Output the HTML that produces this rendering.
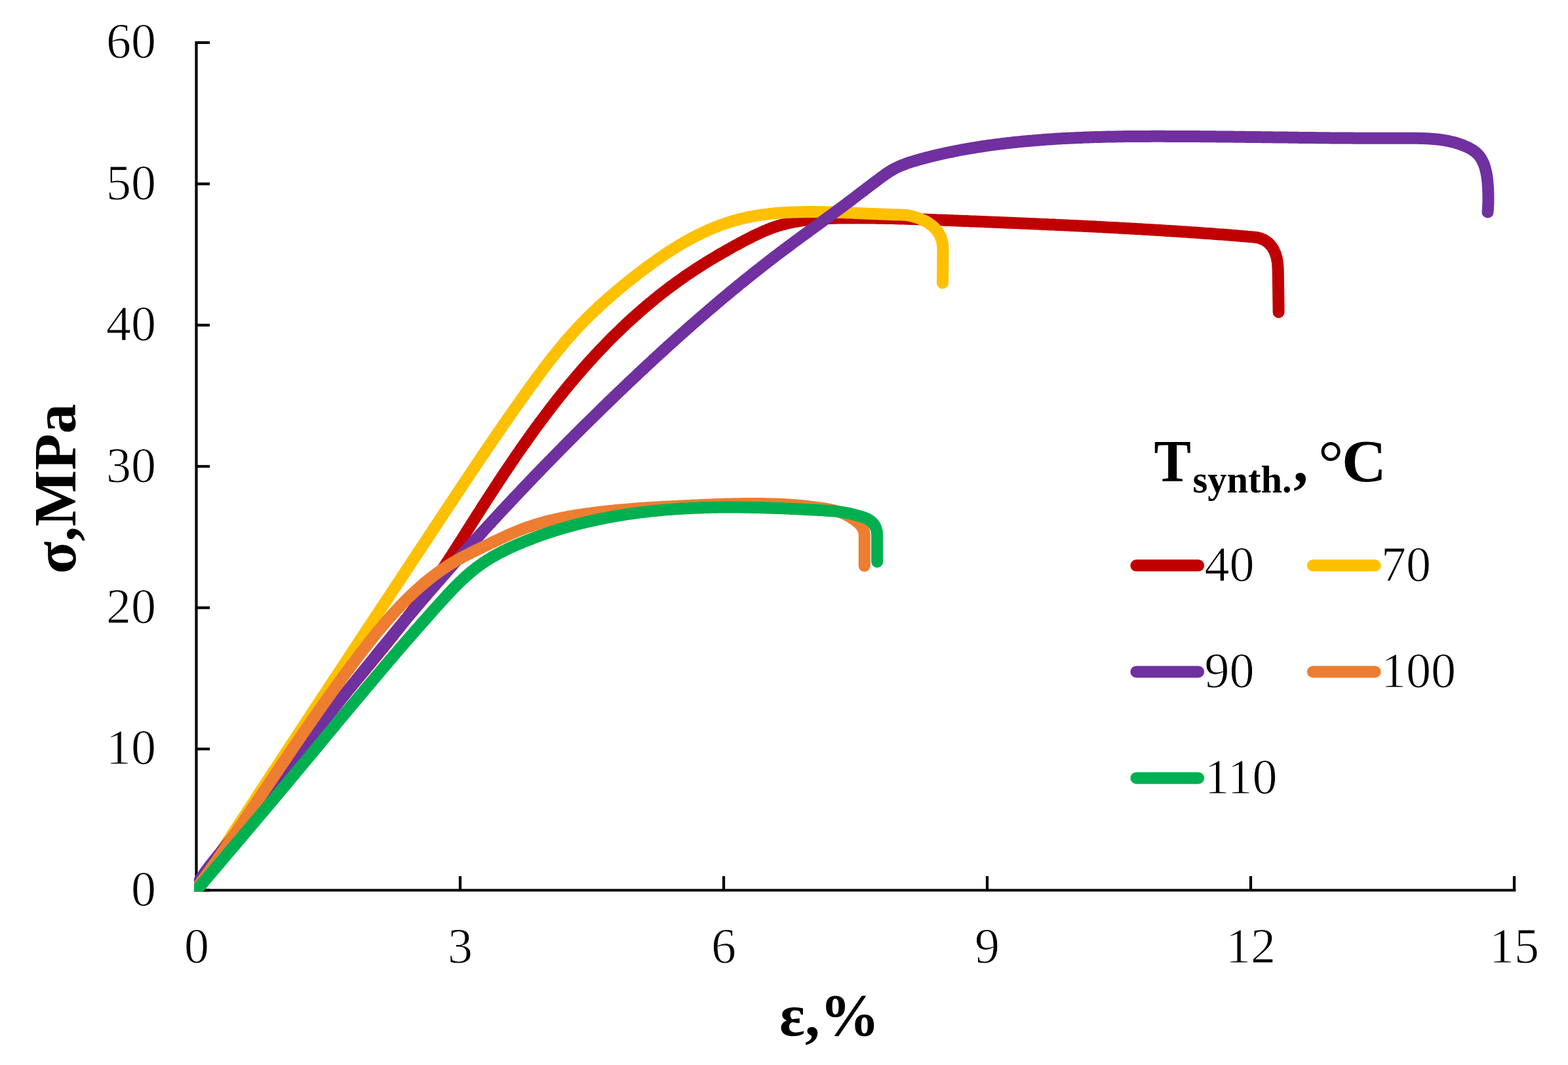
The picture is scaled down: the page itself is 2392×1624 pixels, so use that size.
<!DOCTYPE html>
<html><head><meta charset="utf-8"><title>Stress-strain curves</title>
<style>html,body{margin:0;padding:0;background:#fff;overflow:hidden}svg{display:block}</style>
</head><body>
<svg width="2392" height="1624" viewBox="0 0 2392 1624">
<rect width="2392" height="1624" fill="#fff"/>
<defs><clipPath id="pa"><rect x="296" y="40" width="2040" height="1320"/></clipPath></defs>
<g stroke="#000" stroke-width="4.2" fill="none" stroke-linecap="butt">
<path d="M299.5,63.0 V1357.5 H2312.3"/>
<path d="M299.5,1357.5 H320.0"/>
<path d="M299.5,1142.1 H320.0"/>
<path d="M299.5,926.7 H320.0"/>
<path d="M299.5,711.2 H320.0"/>
<path d="M299.5,495.8 H320.0"/>
<path d="M299.5,280.4 H320.0"/>
<path d="M299.5,65.0 H320.0"/>
<path d="M702.0,1357.5 V1336.0"/>
<path d="M1104.0,1357.5 V1336.0"/>
<path d="M1506.0,1357.5 V1336.0"/>
<path d="M1908.0,1357.5 V1336.0"/>
<path d="M2310.0,1357.5 V1336.0"/>
</g>
<g clip-path="url(#pa)" fill="none" stroke-width="18" stroke-linecap="round" stroke-linejoin="round">
<path stroke="#C00000" d="M300.0,1355.0 301.6,1352.5 303.2,1349.9 304.8,1347.4 306.5,1344.9 308.1,1342.4 309.7,1339.8 311.4,1337.3 313.0,1334.8 314.7,1332.3 316.3,1329.8 318.0,1327.3 319.6,1324.8 321.3,1322.3 323.0,1319.8 324.7,1317.4 326.3,1314.9 328.0,1312.4 329.7,1309.9 331.4,1307.4 333.1,1305.0 334.8,1302.5 336.5,1300.0 338.2,1297.6 339.9,1295.1 341.7,1292.7 343.4,1290.2 345.1,1287.8 346.8,1285.3 348.6,1282.9 350.3,1280.5 352.1,1278.0 353.8,1275.6 355.6,1273.2 357.3,1270.7 359.1,1268.3 360.8,1265.9 362.6,1263.5 364.4,1261.1 366.1,1258.6 367.9,1256.2 369.7,1253.8 371.5,1251.4 373.3,1249.0 375.1,1246.6 376.8,1244.2 378.6,1241.8 380.4,1239.4 382.2,1237.0 384.0,1234.6 385.8,1232.3 387.7,1229.9 389.5,1227.5 391.3,1225.1 393.1,1222.7 394.9,1220.3 396.8,1218.0 398.6,1215.6 400.4,1213.2 402.2,1210.9 404.1,1208.5 405.9,1206.1 407.8,1203.8 409.6,1201.4 411.4,1199.1 413.3,1196.7 415.1,1194.3 417.0,1192.0 418.9,1189.6 420.7,1187.3 422.6,1184.9 424.4,1182.6 426.3,1180.2 428.2,1177.9 430.0,1175.6 431.9,1173.2 433.8,1170.9 435.6,1168.5 437.5,1166.2 439.4,1163.9 441.3,1161.5 443.1,1159.2 445.0,1156.9 446.9,1154.5 448.8,1152.2 450.7,1149.9 452.6,1147.6 454.5,1145.2 456.4,1142.9 458.2,1140.6 460.1,1138.3 462.0,1135.9 463.9,1133.6 465.8,1131.3 467.7,1129.0 469.6,1126.7 471.5,1124.4 473.4,1122.0 475.3,1119.7 477.2,1117.4 479.2,1115.1 481.1,1112.8 483.0,1110.5 484.9,1108.2 486.8,1105.8 488.7,1103.5 490.6,1101.2 492.5,1098.9 494.4,1096.6 496.3,1094.3 498.2,1092.0 500.2,1089.7 502.1,1087.4 504.0,1085.1 505.9,1082.8 507.8,1080.4 509.7,1078.1 511.6,1075.8 513.6,1073.5 515.5,1071.2 517.4,1068.9 519.3,1066.6 521.2,1064.3 523.1,1062.0 525.1,1059.7 527.0,1057.4 528.9,1055.1 530.8,1052.8 532.7,1050.5 534.6,1048.1 536.6,1045.8 538.5,1043.5 540.4,1041.2 542.3,1038.9 544.2,1036.6 546.1,1034.3 548.0,1032.0 549.9,1029.7 551.9,1027.4 553.8,1025.1 555.7,1022.7 557.6,1020.4 559.5,1018.1 561.4,1015.8 563.3,1013.5 565.2,1011.2 567.1,1008.9 569.0,1006.5 570.9,1004.2 572.8,1001.9 574.7,999.6 576.6,997.3 578.5,994.9 580.4,992.6 582.3,990.3 584.2,988.0 586.1,985.6 588.0,983.3 589.9,981.0 591.8,978.7 593.6,976.3 595.5,974.0 597.4,971.7 599.3,969.3 601.1,967.0 603.0,964.6 604.9,962.3 606.8,959.9 608.6,957.6 610.5,955.2 612.3,952.9 614.2,950.5 616.0,948.2 617.9,945.8 619.7,943.5 621.6,941.1 623.4,938.7 625.2,936.4 627.1,934.0 628.9,931.6 630.7,929.2 632.5,926.9 634.3,924.5 636.1,922.1 637.9,919.7 639.7,917.3 641.5,914.9 643.3,912.5 645.1,910.1 646.9,907.7 648.6,905.3 650.4,902.9 652.2,900.5 653.9,898.0 655.7,895.6 657.4,893.2 659.1,890.8 660.9,888.3 662.6,885.9 664.3,883.4 666.0,881.0 667.7,878.5 669.4,876.1 671.1,873.6 672.8,871.1 674.5,868.7 676.1,866.2 677.8,863.7 679.5,861.2 681.1,858.7 682.7,856.2 684.4,853.7 686.0,851.2 687.6,848.7 689.3,846.2 690.9,843.7 692.5,841.2 694.1,838.7 695.7,836.1 697.3,833.6 698.9,831.1 700.5,828.6 702.1,826.0 703.7,823.5 705.3,821.0 706.9,818.4 708.5,815.9 710.1,813.4 711.7,810.8 713.3,808.3 714.9,805.8 716.5,803.3 718.1,800.7 719.7,798.2 721.3,795.7 722.9,793.1 724.5,790.6 726.1,788.1 727.7,785.5 729.4,783.0 731.0,780.5 732.6,778.0 734.2,775.4 735.8,772.9 737.4,770.4 739.1,767.9 740.7,765.3 742.3,762.8 743.9,760.3 745.6,757.8 747.2,755.3 748.8,752.7 750.5,750.2 752.1,747.7 753.8,745.2 755.4,742.7 757.0,740.2 758.7,737.7 760.3,735.1 762.0,732.6 763.7,730.1 765.3,727.6 767.0,725.1 768.6,722.6 770.3,720.1 772.0,717.6 773.7,715.1 775.3,712.7 777.0,710.2 778.7,707.7 780.4,705.2 782.1,702.7 783.8,700.2 785.4,697.8 787.1,695.3 788.8,692.8 790.6,690.3 792.3,687.9 794.0,685.4 795.7,682.9 797.4,680.5 799.1,678.0 800.9,675.6 802.6,673.1 804.3,670.7 806.1,668.2 807.8,665.8 809.6,663.4 811.3,660.9 813.1,658.5 814.8,656.1 816.6,653.6 818.3,651.2 820.1,648.8 821.9,646.4 823.7,644.0 825.5,641.6 827.3,639.2 829.1,636.8 830.9,634.4 832.7,632.0 834.5,629.6 836.3,627.2 838.1,624.8 839.9,622.4 841.8,620.1 843.6,617.7 845.4,615.3 847.3,613.0 849.1,610.6 851.0,608.3 852.8,605.9 854.7,603.6 856.6,601.3 858.5,598.9 860.3,596.6 862.2,594.3 864.1,592.0 866.0,589.6 867.9,587.3 869.8,585.0 871.8,582.7 873.7,580.4 875.6,578.2 877.6,575.9 879.5,573.6 881.4,571.3 883.4,569.1 885.4,566.8 887.3,564.5 889.3,562.3 891.3,560.0 893.2,557.8 895.2,555.6 897.2,553.4 899.2,551.1 901.2,548.9 903.3,546.7 905.3,544.5 907.3,542.3 909.3,540.1 911.4,537.9 913.4,535.8 915.5,533.6 917.5,531.4 919.6,529.3 921.7,527.1 923.8,525.0 925.8,522.8 927.9,520.7 930.0,518.6 932.1,516.4 934.2,514.3 936.4,512.2 938.5,510.1 940.6,508.0 942.8,505.9 944.9,503.9 947.1,501.8 949.2,499.7 951.4,497.7 953.6,495.6 955.7,493.6 957.9,491.5 960.1,489.5 962.3,487.5 964.5,485.5 966.7,483.5 969.0,481.5 971.2,479.5 973.4,477.5 975.7,475.6 977.9,473.6 980.2,471.6 982.4,469.7 984.7,467.7 987.0,465.8 989.3,463.9 991.6,462.0 993.9,460.1 996.2,458.2 998.5,456.3 1000.8,454.4 1003.2,452.5 1005.5,450.7 1007.9,448.8 1010.2,446.9 1012.6,445.1 1015.0,443.3 1017.3,441.5 1019.7,439.6 1022.1,437.8 1024.5,436.0 1026.9,434.3 1029.4,432.5 1031.8,430.7 1034.2,429.0 1036.7,427.2 1039.1,425.5 1041.6,423.8 1044.0,422.0 1046.5,420.3 1049.0,418.6 1051.5,416.9 1054.0,415.3 1056.5,413.6 1059.0,411.9 1061.5,410.3 1064.1,408.6 1066.6,407.0 1069.1,405.4 1071.7,403.8 1074.2,402.1 1076.8,400.5 1079.4,399.0 1081.9,397.4 1084.5,395.8 1087.1,394.3 1089.7,392.7 1092.3,391.2 1094.9,389.6 1097.5,388.1 1100.1,386.6 1102.8,385.1 1105.4,383.6 1108.0,382.1 1110.6,380.6 1113.3,379.1 1115.9,377.6 1118.5,376.2 1121.2,374.7 1123.8,373.3 1126.5,371.9 1129.1,370.4 1131.8,369.0 1134.5,367.6 1137.1,366.2 1139.8,364.8 1142.5,363.4 1145.1,362.1 1147.8,360.7 1150.5,359.4 1153.2,358.1 1155.9,356.8 1158.6,355.6 1161.3,354.3 1164.1,353.1 1166.8,351.9 1169.5,350.8 1172.3,349.7 1175.0,348.6 1177.8,347.6 1180.6,346.6 1183.4,345.6 1186.2,344.7 1189.0,343.9 1191.8,343.0 1194.7,342.3 1197.5,341.5 1200.4,340.8 1203.3,340.1 1206.1,339.5 1209.0,338.9 1211.9,338.3 1214.8,337.8 1217.8,337.3 1220.7,336.9 1223.6,336.4 1226.6,336.0 1229.5,335.6 1232.5,335.3 1235.4,335.0 1238.4,334.7 1241.4,334.4 1244.4,334.2 1247.3,333.9 1250.3,333.7 1253.3,333.5 1256.3,333.4 1259.3,333.2 1262.3,333.1 1265.3,333.0 1268.3,332.9 1271.3,332.8 1274.3,332.7 1277.4,332.6 1280.4,332.6 1283.4,332.5 1286.4,332.5 1289.4,332.5 1292.4,332.4 1295.4,332.4 1298.5,332.4 1301.5,332.4 1304.5,332.4 1307.5,332.4 1310.5,332.4 1313.5,332.4 1316.5,332.4 1319.5,332.4 1322.5,332.5 1325.5,332.5 1328.5,332.5 1331.5,332.6 1334.6,332.6 1337.6,332.7 1340.6,332.7 1343.6,332.8 1346.6,332.8 1349.6,332.9 1352.6,332.9 1355.6,333.0 1358.6,333.1 1361.6,333.1 1364.6,333.2 1367.6,333.3 1370.6,333.4 1373.6,333.4 1376.6,333.5 1379.6,333.6 1382.6,333.7 1385.5,333.8 1388.5,333.9 1391.5,334.0 1394.5,334.1 1397.5,334.2 1400.5,334.3 1403.5,334.4 1406.5,334.5 1409.5,334.6 1412.5,334.7 1415.5,334.8 1418.5,334.9 1421.5,335.0 1424.5,335.2 1427.5,335.3 1430.5,335.4 1433.5,335.5 1436.5,335.6 1439.4,335.7 1442.4,335.8 1445.4,336.0 1448.4,336.1 1451.4,336.2 1454.4,336.3 1457.4,336.4 1460.4,336.5 1463.4,336.7 1466.4,336.8 1469.4,336.9 1472.4,337.0 1475.4,337.1 1478.4,337.2 1481.4,337.4 1484.3,337.5 1487.3,337.6 1490.3,337.7 1493.3,337.8 1496.3,338.0 1499.3,338.1 1502.3,338.2 1505.3,338.3 1508.3,338.4 1511.3,338.6 1514.3,338.7 1517.3,338.8 1520.3,338.9 1523.3,339.0 1526.3,339.2 1529.2,339.3 1532.2,339.4 1535.2,339.5 1538.2,339.7 1541.2,339.8 1544.2,339.9 1547.2,340.0 1550.2,340.2 1553.2,340.3 1556.2,340.4 1559.2,340.5 1562.2,340.7 1565.2,340.8 1568.2,340.9 1571.2,341.0 1574.1,341.2 1577.1,341.3 1580.1,341.4 1583.1,341.6 1586.1,341.7 1589.1,341.8 1592.1,342.0 1595.1,342.1 1598.1,342.2 1601.1,342.4 1604.1,342.5 1607.1,342.6 1610.1,342.8 1613.1,342.9 1616.0,343.0 1619.0,343.2 1622.0,343.3 1625.0,343.5 1628.0,343.6 1631.0,343.7 1634.0,343.9 1637.0,344.0 1640.0,344.2 1643.0,344.3 1646.0,344.5 1649.0,344.6 1652.0,344.7 1655.0,344.9 1657.9,345.0 1660.9,345.2 1663.9,345.3 1666.9,345.5 1669.9,345.6 1672.9,345.8 1675.9,345.9 1678.9,346.1 1681.9,346.2 1684.9,346.4 1687.9,346.6 1690.9,346.7 1693.9,346.9 1696.8,347.0 1699.8,347.2 1702.8,347.3 1705.8,347.5 1708.8,347.7 1711.8,347.8 1714.8,348.0 1717.8,348.2 1720.8,348.3 1723.8,348.5 1726.8,348.7 1729.8,348.8 1732.7,349.0 1735.7,349.2 1738.7,349.3 1741.7,349.5 1744.7,349.7 1747.7,349.9 1750.7,350.0 1753.7,350.2 1756.7,350.4 1759.7,350.6 1762.7,350.8 1765.6,350.9 1768.6,351.1 1771.6,351.3 1774.6,351.5 1777.6,351.7 1780.6,351.9 1783.6,352.0 1786.6,352.2 1789.6,352.4 1792.6,352.6 1795.5,352.8 1798.5,353.0 1801.5,353.2 1804.5,353.4 1807.5,353.6 1810.5,353.8 1813.5,354.0 1816.5,354.2 1819.5,354.4 1822.5,354.6 1825.4,354.8 1828.4,355.0 1831.4,355.2 1834.4,355.4 1837.4,355.7 1840.4,355.9 1843.4,356.1 1846.4,356.3 1849.4,356.5 1852.3,356.7 1855.3,357.0 1858.3,357.2 1861.3,357.4 1864.3,357.6 1867.3,357.8 1870.3,358.1 1873.3,358.3 1876.3,358.5 1879.2,358.8 1882.2,359.0 1885.2,359.2 1888.2,359.5 1891.2,359.7 1894.2,359.9 1897.2,360.2 1900.2,360.4 1903.1,360.7 1906.1,360.9 1909.1,361.2 1912.1,361.4 C1944.4,363.8 1949.3,394 1949.6,410 L1950.6,476"/>
<path stroke="#FFC000" d="M300.0,1356.0 301.6,1353.5 303.3,1351.0 304.9,1348.5 306.5,1345.9 308.2,1343.4 309.8,1340.9 311.4,1338.4 313.1,1335.9 314.7,1333.4 316.4,1330.9 318.0,1328.4 319.6,1325.8 321.3,1323.3 322.9,1320.8 324.5,1318.3 326.2,1315.8 327.8,1313.3 329.5,1310.8 331.1,1308.3 332.7,1305.8 334.4,1303.2 336.0,1300.7 337.6,1298.2 339.3,1295.7 340.9,1293.2 342.6,1290.7 344.2,1288.2 345.8,1285.7 347.5,1283.2 349.1,1280.7 350.8,1278.1 352.4,1275.6 354.0,1273.1 355.7,1270.6 357.3,1268.1 359.0,1265.6 360.6,1263.1 362.2,1260.6 363.9,1258.1 365.5,1255.6 367.2,1253.1 368.8,1250.5 370.4,1248.0 372.1,1245.5 373.7,1243.0 375.4,1240.5 377.0,1238.0 378.6,1235.5 380.3,1233.0 381.9,1230.5 383.6,1228.0 385.2,1225.5 386.9,1223.0 388.5,1220.5 390.1,1217.9 391.8,1215.4 393.4,1212.9 395.1,1210.4 396.7,1207.9 398.4,1205.4 400.0,1202.9 401.7,1200.4 403.3,1197.9 404.9,1195.4 406.6,1192.9 408.2,1190.4 409.9,1187.9 411.5,1185.4 413.2,1182.9 414.8,1180.4 416.5,1177.9 418.1,1175.3 419.7,1172.8 421.4,1170.3 423.0,1167.8 424.7,1165.3 426.3,1162.8 428.0,1160.3 429.6,1157.8 431.3,1155.3 432.9,1152.8 434.6,1150.3 436.2,1147.8 437.8,1145.3 439.5,1142.8 441.1,1140.3 442.8,1137.8 444.4,1135.3 446.1,1132.8 447.7,1130.3 449.4,1127.8 451.0,1125.3 452.7,1122.8 454.3,1120.2 456.0,1117.7 457.6,1115.2 459.3,1112.7 460.9,1110.2 462.6,1107.7 464.2,1105.2 465.9,1102.7 467.5,1100.2 469.2,1097.7 470.8,1095.2 472.5,1092.7 474.1,1090.2 475.7,1087.7 477.4,1085.2 479.0,1082.7 480.7,1080.2 482.3,1077.7 484.0,1075.2 485.6,1072.7 487.3,1070.2 488.9,1067.7 490.6,1065.2 492.2,1062.7 493.9,1060.2 495.5,1057.7 497.2,1055.2 498.8,1052.7 500.5,1050.2 502.1,1047.7 503.8,1045.2 505.4,1042.7 507.1,1040.2 508.7,1037.7 510.4,1035.2 512.0,1032.7 513.7,1030.2 515.3,1027.7 517.0,1025.2 518.7,1022.7 520.3,1020.2 522.0,1017.7 523.6,1015.2 525.3,1012.7 526.9,1010.2 528.6,1007.7 530.2,1005.2 531.9,1002.7 533.5,1000.2 535.2,997.7 536.8,995.1 538.5,992.6 540.1,990.1 541.8,987.6 543.4,985.1 545.1,982.6 546.7,980.1 548.4,977.6 550.0,975.1 551.7,972.6 553.3,970.1 555.0,967.6 556.6,965.1 558.3,962.6 559.9,960.1 561.6,957.6 563.3,955.1 564.9,952.6 566.6,950.1 568.2,947.6 569.9,945.1 571.5,942.6 573.2,940.1 574.8,937.6 576.5,935.1 578.1,932.6 579.8,930.1 581.4,927.6 583.1,925.1 584.7,922.6 586.4,920.1 588.0,917.6 589.7,915.1 591.4,912.6 593.0,910.1 594.7,907.6 596.3,905.1 598.0,902.6 599.6,900.1 601.3,897.6 602.9,895.1 604.6,892.6 606.2,890.1 607.9,887.6 609.5,885.1 611.2,882.6 612.9,880.1 614.5,877.6 616.2,875.1 617.8,872.6 619.5,870.1 621.1,867.6 622.8,865.1 624.4,862.6 626.1,860.1 627.7,857.6 629.4,855.1 631.0,852.6 632.7,850.1 634.4,847.6 636.0,845.1 637.7,842.6 639.3,840.1 641.0,837.6 642.6,835.1 644.3,832.6 645.9,830.1 647.6,827.6 649.2,825.1 650.9,822.6 652.6,820.1 654.2,817.6 655.9,815.1 657.5,812.6 659.2,810.1 660.8,807.6 662.5,805.1 664.1,802.6 665.8,800.1 667.4,797.6 669.1,795.1 670.7,792.6 672.4,790.1 674.1,787.6 675.7,785.1 677.4,782.6 679.0,780.1 680.7,777.6 682.3,775.1 684.0,772.6 685.6,770.1 687.3,767.6 689.0,765.1 690.6,762.6 692.3,760.2 693.9,757.7 695.6,755.2 697.2,752.7 698.9,750.2 700.6,747.7 702.2,745.2 703.9,742.7 705.5,740.2 707.2,737.7 708.9,735.2 710.5,732.7 712.2,730.2 713.9,727.7 715.5,725.2 717.2,722.7 718.9,720.2 720.5,717.7 722.2,715.2 723.9,712.8 725.5,710.3 727.2,707.8 728.9,705.3 730.6,702.8 732.2,700.3 733.9,697.8 735.6,695.3 737.3,692.9 739.0,690.4 740.6,687.9 742.3,685.4 744.0,682.9 745.7,680.5 747.4,678.0 749.1,675.5 750.8,673.0 752.5,670.5 754.1,668.1 755.8,665.6 757.5,663.1 759.2,660.6 760.9,658.2 762.6,655.7 764.3,653.2 766.0,650.8 767.7,648.3 769.5,645.8 771.2,643.4 772.9,640.9 774.6,638.4 776.3,636.0 778.0,633.5 779.7,631.1 781.5,628.6 783.2,626.2 784.9,623.7 786.6,621.2 788.4,618.8 790.1,616.3 791.8,613.9 793.6,611.4 795.3,609.0 797.0,606.5 798.8,604.1 800.5,601.7 802.3,599.2 804.0,596.8 805.8,594.3 807.5,591.9 809.3,589.5 811.0,587.0 812.8,584.6 814.6,582.2 816.3,579.8 818.1,577.3 819.9,574.9 821.7,572.5 823.5,570.1 825.2,567.7 827.0,565.3 828.8,562.9 830.7,560.5 832.5,558.1 834.3,555.8 836.1,553.4 837.9,551.0 839.8,548.7 841.6,546.3 843.5,543.9 845.3,541.6 847.2,539.3 849.1,536.9 851.0,534.6 852.9,532.3 854.8,530.0 856.7,527.7 858.6,525.4 860.5,523.1 862.4,520.8 864.4,518.6 866.3,516.3 868.3,514.1 870.3,511.8 872.3,509.6 874.2,507.4 876.3,505.2 878.3,503.0 880.3,500.8 882.3,498.6 884.4,496.4 886.4,494.3 888.5,492.1 890.6,490.0 892.7,487.9 894.8,485.8 896.9,483.7 899.0,481.6 901.1,479.5 903.3,477.4 905.4,475.3 907.6,473.3 909.8,471.2 911.9,469.2 914.1,467.1 916.3,465.1 918.6,463.1 920.8,461.1 923.0,459.1 925.2,457.1 927.5,455.1 929.7,453.1 932.0,451.2 934.3,449.2 936.6,447.3 938.8,445.3 941.1,443.4 943.4,441.5 945.8,439.5 948.1,437.6 950.4,435.7 952.7,433.8 955.1,431.9 957.4,430.0 959.8,428.1 962.2,426.2 964.5,424.4 966.9,422.5 969.3,420.7 971.7,418.8 974.1,416.9 976.5,415.1 978.9,413.3 981.3,411.4 983.8,409.6 986.2,407.8 988.6,406.0 991.1,404.2 993.5,402.4 996.0,400.6 998.5,398.9 1000.9,397.1 1003.4,395.4 1005.9,393.6 1008.4,391.9 1010.9,390.2 1013.4,388.5 1015.9,386.8 1018.5,385.2 1021.0,383.5 1023.6,381.9 1026.1,380.2 1028.7,378.6 1031.2,377.0 1033.8,375.5 1036.4,373.9 1039.0,372.4 1041.6,370.8 1044.2,369.3 1046.8,367.9 1049.4,366.4 1052.0,364.9 1054.7,363.5 1057.3,362.1 1060.0,360.7 1062.7,359.3 1065.3,358.0 1068.0,356.7 1070.7,355.4 1073.4,354.1 1076.1,352.9 1078.8,351.6 1081.5,350.4 1084.3,349.2 1087.0,348.1 1089.7,347.0 1092.5,345.9 1095.3,344.8 1098.0,343.7 1100.8,342.7 1103.6,341.7 1106.4,340.8 1109.2,339.8 1112.1,338.9 1114.9,338.0 1117.7,337.2 1120.6,336.4 1123.4,335.6 1126.3,334.8 1129.1,334.0 1132.0,333.3 1134.9,332.7 1137.8,332.0 1140.7,331.4 1143.6,330.8 1146.5,330.2 1149.4,329.7 1152.4,329.1 1155.3,328.6 1158.2,328.2 1161.2,327.7 1164.1,327.3 1167.1,326.9 1170.0,326.6 1173.0,326.2 1176.0,325.9 1178.9,325.6 1181.9,325.3 1184.9,325.0 1187.9,324.8 1190.9,324.6 1193.9,324.4 1196.9,324.2 1199.9,324.0 1202.9,323.9 1205.9,323.7 1208.9,323.6 1211.9,323.5 1214.9,323.4 1217.9,323.3 1220.9,323.3 1223.9,323.2 1226.9,323.2 1230.0,323.1 1233.0,323.1 1236.0,323.1 1239.0,323.1 1242.0,323.1 1245.0,323.1 1248.1,323.2 1251.1,323.2 1254.1,323.2 1257.1,323.3 1260.1,323.4 1263.1,323.4 1266.1,323.5 1269.2,323.6 1272.2,323.7 1275.2,323.8 1278.2,323.9 1281.2,324.0 1284.2,324.1 1287.2,324.2 1290.2,324.3 1293.2,324.4 1296.3,324.5 1299.3,324.6 1302.3,324.8 1305.3,324.9 1308.3,325.0 1311.3,325.2 1314.3,325.3 1317.3,325.4 1320.3,325.6 1323.3,325.7 1326.3,325.8 1329.3,326.0 1332.3,326.1 1335.3,326.2 1338.3,326.3 1341.2,326.5 1344.2,326.6 1347.2,326.7 1350.2,326.8 1353.2,327.0 1356.2,327.1 1359.2,327.2 1362.1,327.3 1365.1,327.4 1368.1,327.5 1371.1,327.6 1374.1,327.6 1377.0,327.7 1380.0,327.8 C1385.2,328.1 1438.5,334.7 1438.5,380 L1438,431.4"/>
<path stroke="#7030A0" d="M300.0,1350.0 301.5,1347.4 303.1,1344.8 304.6,1342.2 306.3,1339.7 307.9,1337.2 309.6,1334.7 311.3,1332.2 313.0,1329.8 314.8,1327.3 316.6,1324.9 318.4,1322.6 320.2,1320.2 322.0,1317.8 323.9,1315.5 325.7,1313.1 327.6,1310.8 329.5,1308.5 331.4,1306.1 333.2,1303.8 335.1,1301.5 337.0,1299.2 338.9,1296.8 340.8,1294.5 342.7,1292.2 344.5,1289.9 346.4,1287.5 348.3,1285.2 350.2,1282.9 352.1,1280.5 353.9,1278.2 355.8,1275.9 357.7,1273.5 359.6,1271.2 361.4,1268.9 363.3,1266.5 365.2,1264.2 367.0,1261.8 368.9,1259.5 370.8,1257.1 372.6,1254.8 374.5,1252.5 376.3,1250.1 378.2,1247.8 380.1,1245.4 381.9,1243.1 383.8,1240.7 385.6,1238.4 387.5,1236.0 389.4,1233.6 391.2,1231.3 393.1,1228.9 394.9,1226.6 396.8,1224.2 398.6,1221.9 400.5,1219.5 402.3,1217.2 404.2,1214.8 406.0,1212.4 407.9,1210.1 409.7,1207.7 411.6,1205.4 413.4,1203.0 415.3,1200.6 417.1,1198.3 419.0,1195.9 420.8,1193.5 422.7,1191.2 424.5,1188.8 426.3,1186.4 428.2,1184.1 430.0,1181.7 431.9,1179.3 433.7,1177.0 435.6,1174.6 437.4,1172.2 439.3,1169.9 441.1,1167.5 442.9,1165.1 444.8,1162.8 446.6,1160.4 448.5,1158.0 450.3,1155.7 452.2,1153.3 454.0,1150.9 455.8,1148.6 457.7,1146.2 459.5,1143.8 461.4,1141.5 463.2,1139.1 465.1,1136.7 466.9,1134.4 468.7,1132.0 470.6,1129.6 472.4,1127.3 474.3,1124.9 476.1,1122.5 478.0,1120.2 479.8,1117.8 481.7,1115.4 483.5,1113.1 485.3,1110.7 487.2,1108.3 489.0,1106.0 490.9,1103.6 492.7,1101.2 494.6,1098.9 496.4,1096.5 498.3,1094.1 500.1,1091.8 502.0,1089.4 503.8,1087.0 505.7,1084.7 507.6,1082.3 509.4,1080.0 511.3,1077.6 513.1,1075.2 515.0,1072.9 516.8,1070.5 518.7,1068.2 520.5,1065.8 522.4,1063.5 524.3,1061.1 526.1,1058.8 528.0,1056.4 529.9,1054.0 531.7,1051.7 533.6,1049.3 535.5,1047.0 537.3,1044.6 539.2,1042.3 541.1,1039.9 542.9,1037.6 544.8,1035.3 546.7,1032.9 548.6,1030.6 550.4,1028.2 552.3,1025.9 554.2,1023.5 556.1,1021.2 558.0,1018.9 559.8,1016.5 561.7,1014.2 563.6,1011.9 565.5,1009.5 567.4,1007.2 569.3,1004.9 571.2,1002.5 573.1,1000.2 574.9,997.9 576.8,995.6 578.7,993.2 580.6,990.9 582.5,988.6 584.4,986.3 586.3,984.0 588.3,981.6 590.2,979.3 592.1,977.0 594.0,974.7 595.9,972.4 597.8,970.1 599.7,967.8 601.6,965.5 603.6,963.1 605.5,960.8 607.4,958.5 609.3,956.2 611.2,953.9 613.2,951.6 615.1,949.3 617.0,947.0 618.9,944.7 620.9,942.4 622.8,940.2 624.7,937.9 626.7,935.6 628.6,933.3 630.6,931.0 632.5,928.7 634.4,926.4 636.4,924.1 638.3,921.9 640.3,919.6 642.2,917.3 644.2,915.0 646.1,912.7 648.1,910.5 650.0,908.2 652.0,905.9 653.9,903.7 655.9,901.4 657.9,899.1 659.8,896.8 661.8,894.6 663.8,892.3 665.7,890.0 667.7,887.8 669.7,885.5 671.6,883.3 673.6,881.0 675.6,878.8 677.6,876.5 679.5,874.2 681.5,872.0 683.5,869.7 685.5,867.5 687.5,865.2 689.4,863.0 691.4,860.7 693.4,858.5 695.4,856.3 697.4,854.0 699.4,851.8 701.4,849.5 703.4,847.3 705.4,845.1 707.4,842.8 709.4,840.6 711.4,838.4 713.4,836.1 715.4,833.9 717.4,831.7 719.4,829.4 721.4,827.2 723.4,825.0 725.4,822.8 727.4,820.6 729.5,818.3 731.5,816.1 733.5,813.9 735.5,811.7 737.5,809.5 739.5,807.3 741.6,805.0 743.6,802.8 745.6,800.6 747.7,798.4 749.7,796.2 751.7,794.0 753.7,791.8 755.8,789.6 757.8,787.4 759.9,785.2 761.9,783.0 763.9,780.8 766.0,778.6 768.0,776.4 770.1,774.2 772.1,772.0 774.2,769.8 776.2,767.7 778.3,765.5 780.3,763.3 782.4,761.1 784.4,758.9 786.5,756.7 788.5,754.6 790.6,752.4 792.7,750.2 794.7,748.0 796.8,745.8 798.8,743.7 800.9,741.5 803.0,739.3 805.1,737.2 807.1,735.0 809.2,732.8 811.3,730.7 813.3,728.5 815.4,726.3 817.5,724.2 819.6,722.0 821.7,719.9 823.8,717.7 825.8,715.5 827.9,713.4 830.0,711.2 832.1,709.1 834.2,706.9 836.3,704.8 838.4,702.6 840.5,700.5 842.6,698.4 844.7,696.2 846.8,694.1 848.9,691.9 851.0,689.8 853.1,687.6 855.2,685.5 857.3,683.4 859.4,681.2 861.5,679.1 863.6,677.0 865.7,674.9 867.8,672.7 870.0,670.6 872.1,668.5 874.2,666.4 876.3,664.2 878.4,662.1 880.6,660.0 882.7,657.9 884.8,655.8 886.9,653.6 889.1,651.5 891.2,649.4 893.3,647.3 895.5,645.2 897.6,643.1 899.7,641.0 901.9,638.9 904.0,636.8 906.2,634.7 908.3,632.6 910.4,630.5 912.6,628.4 914.7,626.3 916.9,624.2 919.0,622.1 921.2,620.0 923.3,617.9 925.5,615.8 927.6,613.7 929.8,611.6 932.0,609.5 934.1,607.5 936.3,605.4 938.4,603.3 940.6,601.2 942.8,599.1 944.9,597.1 947.1,595.0 949.3,592.9 951.4,590.8 953.6,588.8 955.8,586.7 958.0,584.6 960.1,582.6 962.3,580.5 964.5,578.4 966.7,576.4 968.9,574.3 971.1,572.3 973.2,570.2 975.4,568.1 977.6,566.1 979.8,564.0 982.0,562.0 984.2,559.9 986.4,557.9 988.6,555.8 990.8,553.8 993.0,551.8 995.2,549.7 997.4,547.7 999.6,545.7 1001.8,543.6 1004.0,541.6 1006.2,539.6 1008.5,537.5 1010.7,535.5 1012.9,533.5 1015.1,531.5 1017.3,529.4 1019.6,527.4 1021.8,525.4 1024.0,523.4 1026.2,521.4 1028.5,519.4 1030.7,517.4 1032.9,515.4 1035.2,513.4 1037.4,511.4 1039.6,509.4 1041.9,507.4 1044.1,505.4 1046.4,503.4 1048.6,501.4 1050.9,499.4 1053.1,497.4 1055.4,495.4 1057.6,493.5 1059.9,491.5 1062.2,489.5 1064.4,487.5 1066.7,485.6 1068.9,483.6 1071.2,481.6 1073.5,479.7 1075.8,477.7 1078.0,475.8 1080.3,473.8 1082.6,471.9 1084.9,469.9 1087.2,468.0 1089.4,466.0 1091.7,464.1 1094.0,462.1 1096.3,460.2 1098.6,458.3 1100.9,456.3 1103.2,454.4 1105.5,452.5 1107.8,450.6 1110.1,448.6 1112.4,446.7 1114.7,444.8 1117.0,442.9 1119.3,441.0 1121.7,439.1 1124.0,437.2 1126.3,435.3 1128.6,433.4 1131.0,431.5 1133.3,429.6 1135.6,427.7 1137.9,425.9 1140.3,424.0 1142.6,422.1 1145.0,420.2 1147.3,418.4 1149.6,416.5 1152.0,414.6 1154.3,412.8 1156.7,410.9 1159.1,409.1 1161.4,407.2 1163.8,405.4 1166.1,403.5 1168.5,401.7 1170.9,399.8 1173.2,398.0 1175.6,396.2 1178.0,394.3 1180.4,392.5 1182.7,390.7 1185.1,388.9 1187.5,387.1 1189.9,385.3 1192.3,383.5 1194.7,381.6 1197.1,379.8 1199.5,378.1 1201.9,376.3 1204.3,374.5 1206.7,372.7 1209.1,370.9 1211.5,369.1 1213.9,367.3 1216.3,365.6 1218.8,363.8 1221.2,362.0 1223.6,360.2 1226.0,358.5 1228.4,356.7 1230.8,354.9 1233.3,353.2 1235.7,351.4 1238.1,349.6 1240.5,347.9 1243.0,346.1 1245.4,344.3 1247.8,342.6 1250.2,340.8 1252.6,339.0 1255.1,337.3 1257.5,335.5 1259.9,333.7 1262.3,332.0 1264.7,330.2 1267.1,328.4 1269.6,326.7 1272.0,324.9 1274.4,323.1 1276.8,321.3 1279.2,319.5 1281.6,317.8 1284.0,316.0 1286.4,314.2 1288.8,312.4 1291.2,310.6 1293.6,308.8 1296.0,307.0 1298.4,305.2 1300.8,303.4 1303.2,301.6 1305.6,299.8 1307.9,297.9 1310.3,296.1 1312.7,294.3 1315.1,292.5 1317.5,290.7 1319.9,288.9 1322.2,287.0 1324.6,285.2 1327.0,283.4 1329.4,281.6 1331.8,279.8 1334.2,278.0 1336.6,276.2 1339.0,274.4 1341.4,272.6 1343.8,270.8 1346.3,269.0 1348.7,267.3 1351.1,265.5 1353.6,263.8 1356.1,262.2 1358.6,260.6 1361.2,259.1 1363.8,257.6 1366.4,256.3 1369.1,255.0 1371.8,253.7 1374.6,252.5 1377.3,251.4 1380.1,250.4 1382.9,249.3 1385.8,248.3 1388.6,247.4 1391.5,246.5 1394.4,245.6 1397.3,244.8 1400.2,243.9 1403.1,243.1 1406.0,242.3 1408.9,241.6 1411.8,240.8 1414.7,240.0 1417.6,239.3 1420.5,238.6 1423.5,237.8 1426.4,237.1 1429.3,236.4 1432.2,235.7 1435.2,235.1 1438.1,234.4 1441.0,233.8 1444.0,233.1 1446.9,232.5 1449.8,231.9 1452.8,231.3 1455.7,230.7 1458.7,230.1 1461.6,229.5 1464.5,229.0 1467.5,228.4 1470.4,227.9 1473.4,227.4 1476.3,226.8 1479.3,226.3 1482.3,225.8 1485.2,225.3 1488.2,224.8 1491.1,224.4 1494.1,223.9 1497.0,223.5 1500.0,223.0 1503.0,222.6 1505.9,222.2 1508.9,221.7 1511.9,221.3 1514.8,220.9 1517.8,220.5 1520.8,220.1 1523.8,219.8 1526.7,219.4 1529.7,219.0 1532.7,218.7 1535.7,218.3 1538.6,218.0 1541.6,217.7 1544.6,217.3 1547.6,217.0 1550.6,216.7 1553.5,216.4 1556.5,216.1 1559.5,215.8 1562.5,215.5 1565.5,215.3 1568.5,215.0 1571.4,214.7 1574.4,214.5 1577.4,214.2 1580.4,214.0 1583.4,213.7 1586.4,213.5 1589.4,213.3 1592.4,213.0 1595.4,212.8 1598.4,212.6 1601.3,212.4 1604.3,212.2 1607.3,212.0 1610.3,211.8 1613.3,211.6 1616.3,211.5 1619.3,211.3 1622.3,211.1 1625.3,211.0 1628.3,210.8 1631.3,210.7 1634.3,210.5 1637.3,210.4 1640.3,210.2 1643.3,210.1 1646.3,210.0 1649.3,209.9 1652.3,209.7 1655.3,209.6 1658.3,209.5 1661.3,209.4 1664.3,209.3 1667.3,209.2 1670.3,209.1 1673.3,209.0 1676.3,208.9 1679.3,208.9 1682.3,208.8 1685.3,208.7 1688.3,208.6 1691.3,208.6 1694.3,208.5 1697.3,208.4 1700.3,208.4 1703.3,208.3 1706.3,208.3 1709.3,208.2 1712.3,208.2 1715.3,208.1 1718.4,208.1 1721.4,208.1 1724.4,208.0 1727.4,208.0 1730.4,208.0 1733.4,208.0 1736.4,207.9 1739.4,207.9 1742.4,207.9 1745.4,207.9 1748.4,207.9 1751.4,207.9 1754.4,207.9 1757.4,207.8 1760.4,207.8 1763.4,207.8 1766.4,207.8 1769.4,207.8 1772.4,207.8 1775.4,207.8 1778.4,207.9 1781.4,207.9 1784.4,207.9 1787.4,207.9 1790.4,207.9 1793.4,207.9 1796.4,207.9 1799.4,207.9 1802.4,207.9 1805.4,208.0 1808.4,208.0 1811.4,208.0 1814.4,208.0 1817.4,208.0 1820.4,208.1 1823.3,208.1 1826.3,208.1 1829.3,208.1 1832.3,208.2 1835.3,208.2 1838.3,208.2 1841.3,208.2 1844.3,208.3 1847.3,208.3 1850.3,208.3 1853.3,208.3 1856.3,208.4 1859.3,208.4 1862.2,208.4 1865.2,208.5 1868.2,208.5 1871.2,208.5 1874.2,208.6 1877.2,208.6 1880.2,208.6 1883.2,208.7 1886.2,208.7 1889.2,208.7 1892.2,208.8 1895.1,208.8 1898.1,208.8 1901.1,208.9 1904.1,208.9 1907.1,208.9 1910.1,209.0 1913.1,209.0 1916.1,209.0 1919.1,209.1 1922.1,209.1 1925.0,209.2 1928.0,209.2 1931.0,209.2 1934.0,209.3 1937.0,209.3 1940.0,209.3 1943.0,209.4 1946.0,209.4 1949.0,209.5 1952.0,209.5 1955.0,209.5 1957.9,209.6 1960.9,209.6 1963.9,209.6 1966.9,209.7 1969.9,209.7 1972.9,209.8 1975.9,209.8 1978.9,209.8 1981.9,209.9 1984.9,209.9 1987.9,209.9 1990.9,210.0 1993.9,210.0 1996.9,210.0 1999.9,210.1 2002.9,210.1 2005.9,210.1 2008.9,210.2 2011.9,210.2 2014.9,210.2 2017.9,210.3 2020.9,210.3 2023.9,210.3 2026.9,210.3 2029.9,210.4 2032.9,210.4 2035.9,210.4 2038.9,210.5 2041.9,210.5 2044.9,210.5 2047.9,210.5 2050.9,210.6 2053.9,210.6 2056.9,210.6 2059.9,210.6 2062.9,210.6 2065.9,210.7 2068.9,210.7 2071.9,210.7 2075.0,210.7 2078.0,210.7 2081.0,210.7 2084.0,210.8 2087.0,210.8 2090.0,210.8 2093.0,210.8 2096.1,210.8 2099.1,210.8 2102.1,210.8 2105.1,210.8 2108.1,210.8 2111.2,210.8 2114.2,210.8 2117.2,210.8 2120.2,210.8 2123.3,210.8 2126.3,210.8 2129.3,210.8 2132.3,210.8 2135.4,210.8 2138.4,210.8 2141.4,210.8 2144.5,210.8 2147.5,210.8 2150.5,210.8 2153.6,210.8 2156.6,210.8 2159.6,210.8 2162.6,210.8 2165.7,210.9 2168.7,211.0 2171.7,211.1 2174.7,211.2 2177.7,211.3 2180.7,211.5 2183.7,211.7 2186.7,211.9 2189.6,212.2 2192.6,212.5 2195.6,212.8 2198.5,213.2 2201.4,213.7 2204.4,214.1 2207.3,214.7 2210.2,215.2 2213.1,215.9 2215.9,216.6 2218.8,217.3 2221.7,218.1 2224.5,219.0 2227.3,219.9 2230.1,220.9 2232.9,222.0 2235.7,223.2 2238.4,224.4 2241.1,225.7 2243.7,227.1 2246.3,228.7 2248.7,230.3 2251.0,232.1 2253.2,234.0 2255.2,236.1 2257.0,238.3 2258.7,240.7 2260.2,243.2 2261.6,245.8 2262.9,248.5 2264.0,251.3 2265.0,254.2 2265.9,257.2 2266.6,260.2 2267.3,263.3 2267.9,266.4 2268.4,269.5 2268.8,272.7 2269.2,275.8 2269.5,279.0 2269.7,282.1 2269.9,285.2 2270.1,288.2 2270.2,291.2 2270.3,294.2 2270.4,297.1 2270.4,300.0 2270.4,302.8 2270.4,305.7 2270.4,308.5 2270.3,311.4 2270.1,314.4 2270.0,317.4 2269.8,320.4 2269.5,323.6 "/>
<path stroke="#ED7D31" d="M300.0,1355.0 301.7,1352.6 303.5,1350.2 305.2,1347.7 307.0,1345.3 308.7,1342.9 310.5,1340.5 312.2,1338.0 314.0,1335.6 315.7,1333.2 317.4,1330.7 319.1,1328.3 320.9,1325.9 322.6,1323.4 324.3,1321.0 326.0,1318.5 327.8,1316.1 329.5,1313.7 331.2,1311.2 332.9,1308.8 334.6,1306.3 336.3,1303.9 338.0,1301.4 339.7,1299.0 341.4,1296.5 343.1,1294.1 344.8,1291.6 346.5,1289.2 348.2,1286.7 349.9,1284.2 351.6,1281.8 353.3,1279.3 355.0,1276.9 356.7,1274.4 358.4,1271.9 360.1,1269.5 361.7,1267.0 363.4,1264.5 365.1,1262.1 366.8,1259.6 368.5,1257.1 370.1,1254.7 371.8,1252.2 373.5,1249.7 375.2,1247.2 376.8,1244.8 378.5,1242.3 380.2,1239.8 381.9,1237.4 383.5,1234.9 385.2,1232.4 386.9,1229.9 388.6,1227.5 390.2,1225.0 391.9,1222.5 393.6,1220.0 395.2,1217.5 396.9,1215.1 398.6,1212.6 400.2,1210.1 401.9,1207.6 403.6,1205.2 405.2,1202.7 406.9,1200.2 408.6,1197.7 410.2,1195.2 411.9,1192.8 413.6,1190.3 415.2,1187.8 416.9,1185.3 418.6,1182.9 420.3,1180.4 421.9,1177.9 423.6,1175.4 425.3,1172.9 426.9,1170.5 428.6,1168.0 430.3,1165.5 432.0,1163.0 433.6,1160.6 435.3,1158.1 437.0,1155.6 438.7,1153.1 440.3,1150.6 442.0,1148.2 443.7,1145.7 445.4,1143.2 447.1,1140.7 448.7,1138.3 450.4,1135.8 452.1,1133.3 453.8,1130.9 455.5,1128.4 457.2,1125.9 458.9,1123.5 460.5,1121.0 462.2,1118.5 463.9,1116.0 465.6,1113.6 467.3,1111.1 469.0,1108.7 470.7,1106.2 472.4,1103.7 474.1,1101.3 475.8,1098.8 477.5,1096.3 479.3,1093.9 481.0,1091.4 482.7,1089.0 484.4,1086.5 486.1,1084.1 487.8,1081.6 489.6,1079.2 491.3,1076.7 493.0,1074.3 494.7,1071.8 496.5,1069.4 498.2,1066.9 499.9,1064.5 501.7,1062.0 503.4,1059.6 505.2,1057.2 506.9,1054.7 508.7,1052.3 510.4,1049.9 512.2,1047.4 513.9,1045.0 515.7,1042.6 517.5,1040.1 519.2,1037.7 521.0,1035.3 522.8,1032.9 524.5,1030.4 526.3,1028.0 528.1,1025.6 529.9,1023.2 531.7,1020.8 533.5,1018.4 535.3,1015.9 537.1,1013.5 538.9,1011.1 540.7,1008.7 542.5,1006.3 544.3,1003.9 546.1,1001.5 547.9,999.1 549.8,996.7 551.6,994.4 553.4,992.0 555.3,989.6 557.1,987.2 559.0,984.8 560.8,982.4 562.7,980.1 564.5,977.7 566.4,975.4 568.3,973.0 570.2,970.6 572.0,968.3 573.9,966.0 575.8,963.6 577.7,961.3 579.7,959.0 581.6,956.7 583.5,954.4 585.5,952.1 587.4,949.8 589.4,947.5 591.3,945.3 593.3,943.0 595.3,940.8 597.3,938.5 599.3,936.3 601.3,934.1 603.3,931.9 605.3,929.7 607.3,927.5 609.4,925.3 611.4,923.2 613.5,921.0 615.6,918.9 617.7,916.7 619.8,914.6 621.9,912.5 624.0,910.5 626.2,908.4 628.3,906.3 630.5,904.3 632.7,902.3 634.8,900.3 637.0,898.3 639.3,896.3 641.5,894.3 643.7,892.4 646.0,890.4 648.3,888.5 650.5,886.6 652.8,884.8 655.2,882.9 657.5,881.1 659.8,879.2 662.2,877.4 664.6,875.7 666.9,873.9 669.4,872.1 671.8,870.4 674.2,868.7 676.7,867.0 679.1,865.4 681.6,863.7 684.1,862.1 686.7,860.5 689.2,858.9 691.8,857.4 694.3,855.8 696.9,854.3 699.6,852.9 702.2,851.4 704.8,850.0 707.5,848.5 710.2,847.1 712.9,845.8 715.6,844.4 718.3,843.0 721.0,841.7 723.7,840.4 726.4,839.0 729.2,837.7 731.9,836.4 734.6,835.1 737.3,833.7 740.1,832.4 742.8,831.1 745.5,829.8 748.2,828.5 750.9,827.2 753.6,825.9 756.3,824.6 759.0,823.3 761.7,822.0 764.5,820.7 767.2,819.5 769.9,818.2 772.6,817.0 775.3,815.8 778.1,814.6 780.8,813.4 783.5,812.2 786.3,811.1 789.0,809.9 791.8,808.8 794.6,807.7 797.3,806.7 800.1,805.6 802.9,804.6 805.7,803.6 808.5,802.7 811.4,801.7 814.2,800.8 817.0,799.9 819.9,799.0 822.7,798.2 825.6,797.4 828.5,796.6 831.4,795.8 834.2,795.0 837.1,794.3 840.0,793.6 842.9,792.9 845.9,792.2 848.8,791.5 851.7,790.9 854.6,790.3 857.6,789.6 860.5,789.1 863.5,788.5 866.4,787.9 869.4,787.4 872.3,786.9 875.3,786.4 878.2,785.9 881.2,785.4 884.2,784.9 887.2,784.5 890.1,784.0 893.1,783.6 896.1,783.2 899.1,782.8 902.0,782.4 905.0,782.0 908.0,781.6 911.0,781.2 914.0,780.9 916.9,780.5 919.9,780.2 922.9,779.9 925.9,779.5 928.9,779.2 931.8,778.9 934.8,778.6 937.8,778.3 940.8,778.0 943.7,777.8 946.7,777.5 949.7,777.2 952.7,777.0 955.6,776.7 958.6,776.5 961.6,776.2 964.6,776.0 967.5,775.7 970.5,775.5 973.5,775.3 976.4,775.1 979.4,774.9 982.4,774.7 985.4,774.5 988.3,774.3 991.3,774.1 994.3,773.9 997.3,773.7 1000.2,773.5 1003.2,773.3 1006.2,773.2 1009.2,773.0 1012.1,772.8 1015.1,772.7 1018.1,772.5 1021.1,772.4 1024.1,772.2 1027.0,772.0 1030.0,771.9 1033.0,771.7 1036.0,771.6 1039.0,771.5 1042.0,771.3 1044.9,771.2 1047.9,771.0 1050.9,770.9 1053.9,770.8 1056.9,770.6 1059.9,770.5 1062.9,770.4 1065.9,770.2 1068.9,770.1 1071.9,770.0 1074.9,769.8 1077.9,769.7 1080.9,769.6 1083.9,769.5 1086.9,769.3 1089.9,769.2 1092.9,769.1 1095.9,769.0 1098.9,768.9 1101.9,768.8 1104.9,768.7 1107.9,768.6 1110.9,768.5 1113.9,768.5 1116.9,768.4 1119.9,768.3 1122.9,768.3 1126.0,768.2 1129.0,768.2 1132.0,768.1 1135.0,768.1 1138.0,768.0 1141.0,768.0 1144.0,768.0 1147.0,768.0 1150.0,768.0 1153.0,768.0 1156.0,768.0 1159.0,768.0 1162.0,768.1 1165.0,768.1 1168.0,768.2 1171.0,768.2 1174.0,768.3 1177.0,768.4 1180.0,768.5 1183.0,768.6 1186.0,768.7 1188.9,768.8 1191.9,769.0 1194.9,769.1 1197.9,769.3 1200.9,769.5 1203.9,769.6 1206.8,769.8 1209.8,770.1 1212.8,770.3 1215.8,770.5 1218.7,770.8 1221.7,771.0 1224.7,771.3 1227.6,771.6 1230.6,771.9 1233.6,772.2 1236.5,772.6 1239.5,772.9 1242.4,773.3 1245.4,773.7 1248.3,774.1 1251.2,774.5 1254.2,774.9 1257.1,775.4 1260.0,775.9 1263.0,776.4 1265.9,776.9 1268.8,777.5 1271.7,778.2 1274.6,778.9 1277.5,779.7 1280.3,780.5 1283.2,781.5 1286.0,782.5 C1299.6,789.3 1318.7,799.9 1318.7,815 L1318.7,862.8"/>
<path stroke="#00B050" d="M300.0,1357.5 301.9,1355.2 303.9,1352.9 305.8,1350.7 307.7,1348.4 309.7,1346.1 311.6,1343.8 313.5,1341.5 315.5,1339.2 317.4,1336.9 319.3,1334.7 321.3,1332.4 323.2,1330.1 325.1,1327.8 327.1,1325.5 329.0,1323.2 330.9,1321.0 332.9,1318.7 334.8,1316.4 336.7,1314.1 338.7,1311.8 340.6,1309.5 342.6,1307.3 344.5,1305.0 346.4,1302.7 348.4,1300.4 350.3,1298.1 352.2,1295.9 354.2,1293.6 356.1,1291.3 358.0,1289.0 360.0,1286.7 361.9,1284.4 363.8,1282.1 365.8,1279.9 367.7,1277.6 369.7,1275.3 371.6,1273.0 373.5,1270.7 375.5,1268.4 377.4,1266.2 379.3,1263.9 381.3,1261.6 383.2,1259.3 385.1,1257.0 387.1,1254.7 389.0,1252.4 390.9,1250.2 392.9,1247.9 394.8,1245.6 396.7,1243.3 398.7,1241.0 400.6,1238.7 402.5,1236.4 404.4,1234.1 406.4,1231.9 408.3,1229.6 410.2,1227.3 412.2,1225.0 414.1,1222.7 416.0,1220.4 417.9,1218.1 419.9,1215.8 421.8,1213.5 423.7,1211.2 425.6,1208.9 427.6,1206.6 429.5,1204.4 431.4,1202.1 433.3,1199.8 435.3,1197.5 437.2,1195.2 439.1,1192.9 441.0,1190.6 442.9,1188.3 444.8,1186.0 446.8,1183.7 448.7,1181.4 450.6,1179.1 452.5,1176.8 454.4,1174.5 456.3,1172.2 458.3,1169.9 460.2,1167.6 462.1,1165.3 464.0,1163.0 465.9,1160.7 467.8,1158.4 469.7,1156.1 471.7,1153.8 473.6,1151.5 475.5,1149.2 477.4,1146.9 479.3,1144.6 481.2,1142.3 483.1,1140.0 485.0,1137.7 487.0,1135.4 488.9,1133.1 490.8,1130.8 492.7,1128.4 494.6,1126.1 496.5,1123.8 498.4,1121.5 500.3,1119.2 502.2,1116.9 504.2,1114.6 506.1,1112.3 508.0,1110.0 509.9,1107.7 511.8,1105.4 513.7,1103.1 515.6,1100.8 517.5,1098.5 519.5,1096.2 521.4,1093.9 523.3,1091.6 525.2,1089.3 527.1,1087.0 529.0,1084.7 531.0,1082.4 532.9,1080.1 534.8,1077.8 536.7,1075.5 538.6,1073.2 540.5,1070.9 542.5,1068.6 544.4,1066.4 546.3,1064.1 548.2,1061.8 550.1,1059.5 552.1,1057.2 554.0,1054.9 555.9,1052.6 557.8,1050.3 559.8,1048.0 561.7,1045.7 563.6,1043.4 565.5,1041.1 567.5,1038.9 569.4,1036.6 571.3,1034.3 573.3,1032.0 575.2,1029.7 577.1,1027.4 579.1,1025.1 581.0,1022.9 582.9,1020.6 584.9,1018.3 586.8,1016.0 588.8,1013.7 590.7,1011.5 592.6,1009.2 594.6,1006.9 596.5,1004.6 598.5,1002.4 600.4,1000.1 602.4,997.8 604.3,995.6 606.3,993.3 608.2,991.0 610.2,988.7 612.1,986.5 614.1,984.2 616.1,981.9 618.0,979.7 620.0,977.4 621.9,975.2 623.9,972.9 625.9,970.6 627.8,968.4 629.8,966.1 631.8,963.9 633.7,961.6 635.7,959.4 637.7,957.1 639.7,954.9 641.6,952.6 643.6,950.4 645.6,948.1 647.6,945.9 649.6,943.7 651.6,941.4 653.6,939.2 655.5,936.9 657.5,934.7 659.5,932.5 661.5,930.2 663.5,928.0 665.5,925.8 667.5,923.6 669.5,921.3 671.5,919.1 673.6,916.9 675.6,914.7 677.6,912.4 679.6,910.2 681.6,908.0 683.7,905.8 685.7,903.7 687.8,901.5 689.8,899.3 691.9,897.2 694.0,895.0 696.1,892.9 698.2,890.8 700.3,888.7 702.4,886.6 704.6,884.6 706.8,882.5 709.0,880.5 711.2,878.5 713.4,876.6 715.6,874.6 717.9,872.7 720.2,870.8 722.5,869.0 724.8,867.1 727.2,865.3 729.5,863.5 731.9,861.8 734.4,860.1 736.8,858.4 739.3,856.8 741.8,855.1 744.3,853.5 746.9,852.0 749.4,850.4 752.0,848.9 754.6,847.4 757.2,846.0 759.9,844.5 762.5,843.1 765.2,841.7 767.9,840.4 770.6,839.0 773.3,837.7 776.0,836.4 778.7,835.1 781.5,833.9 784.2,832.6 787.0,831.4 789.7,830.2 792.5,829.0 795.3,827.9 798.1,826.7 800.9,825.6 803.7,824.5 806.5,823.4 809.3,822.3 812.1,821.2 814.9,820.1 817.7,819.1 820.6,818.1 823.4,817.1 826.2,816.1 829.1,815.1 831.9,814.1 834.7,813.1 837.6,812.2 840.4,811.2 843.3,810.3 846.1,809.4 849.0,808.5 851.8,807.6 854.7,806.8 857.6,805.9 860.4,805.1 863.3,804.3 866.2,803.4 869.1,802.6 872.0,801.9 874.8,801.1 877.7,800.3 880.6,799.6 883.5,798.8 886.4,798.1 889.3,797.4 892.2,796.7 895.1,796.0 898.0,795.3 900.9,794.7 903.8,794.0 906.8,793.4 909.7,792.7 912.6,792.1 915.5,791.5 918.4,790.9 921.4,790.3 924.3,789.8 927.2,789.2 930.2,788.7 933.1,788.1 936.0,787.6 939.0,787.1 941.9,786.6 944.9,786.1 947.8,785.6 950.8,785.2 953.7,784.7 956.7,784.2 959.6,783.8 962.6,783.4 965.5,783.0 968.5,782.6 971.4,782.2 974.4,781.8 977.4,781.4 980.3,781.0 983.3,780.7 986.3,780.3 989.2,780.0 992.2,779.7 995.2,779.3 998.2,779.0 1001.1,778.7 1004.1,778.4 1007.1,778.2 1010.1,777.9 1013.0,777.6 1016.0,777.4 1019.0,777.1 1022.0,776.9 1025.0,776.7 1027.9,776.4 1030.9,776.2 1033.9,776.0 1036.9,775.8 1039.9,775.7 1042.9,775.5 1045.9,775.3 1048.8,775.2 1051.8,775.0 1054.8,774.9 1057.8,774.7 1060.8,774.6 1063.8,774.5 1066.8,774.4 1069.8,774.3 1072.8,774.2 1075.8,774.1 1078.8,774.0 1081.8,773.9 1084.7,773.8 1087.7,773.8 1090.7,773.7 1093.7,773.7 1096.7,773.6 1099.7,773.6 1102.7,773.6 1105.7,773.6 1108.7,773.5 1111.7,773.5 1114.7,773.5 1117.7,773.5 1120.7,773.5 1123.7,773.6 1126.7,773.6 1129.7,773.6 1132.7,773.6 1135.7,773.7 1138.7,773.7 1141.7,773.8 1144.7,773.8 1147.7,773.9 1150.7,773.9 1153.6,774.0 1156.6,774.1 1159.6,774.1 1162.6,774.2 1165.6,774.3 1168.6,774.4 1171.6,774.5 1174.6,774.6 1177.6,774.7 1180.6,774.8 1183.6,774.9 1186.6,775.0 1189.6,775.1 1192.6,775.2 1195.6,775.3 1198.6,775.5 1201.6,775.6 1204.5,775.7 1207.5,775.9 1210.5,776.0 1213.5,776.1 1216.5,776.3 1219.5,776.4 1222.5,776.6 1225.5,776.7 1228.5,776.9 1231.4,777.0 1234.4,777.2 1237.4,777.3 1240.4,777.5 1243.4,777.6 1246.4,777.8 1249.4,778.0 1252.3,778.1 1255.3,778.3 1258.3,778.5 1261.3,778.7 1264.3,778.9 1267.2,779.1 1270.2,779.3 1273.2,779.6 1276.1,779.9 1279.1,780.3 1282.0,780.6 1285.0,781.0 1287.9,781.5 1290.9,782.0 1293.8,782.6 1296.8,783.2 1299.7,783.9 1302.6,784.6 1305.5,785.4 1308.4,786.3 C1314.3,787.6 1338.1,791.6 1338.1,816 L1338.1,856.7"/>
</g>
<g font-family='"Liberation Serif", "Times New Roman", serif' font-size="76" fill="#000" stroke="#fff" stroke-width="1.00">
<text x="238" y="1380.8" text-anchor="end">0</text>
<text x="238" y="1165.4" text-anchor="end">10</text>
<text x="238" y="950.0" text-anchor="end">20</text>
<text x="238" y="734.5" text-anchor="end">30</text>
<text x="238" y="519.1" text-anchor="end">40</text>
<text x="238" y="303.7" text-anchor="end">50</text>
<text x="238" y="88.3" text-anchor="end">60</text>
<text x="300.0" y="1467.7" text-anchor="middle">0</text>
<text x="702.0" y="1467.7" text-anchor="middle">3</text>
<text x="1104.0" y="1467.7" text-anchor="middle">6</text>
<text x="1506.0" y="1467.7" text-anchor="middle">9</text>
<text x="1908.0" y="1467.7" text-anchor="middle">12</text>
<text x="2310.0" y="1467.7" text-anchor="middle">15</text>
</g>
<text font-family='"Liberation Serif", "Times New Roman", serif' font-size="91" font-weight="bold" x="0" y="0" transform="translate(115,875.1) rotate(-90)">σ,MPa</text>
<text font-family='"Liberation Serif", "Times New Roman", serif' font-size="91" font-weight="bold" x="1189.1" y="1578.5">ε,%</text>
<text font-family='"Liberation Serif", "Times New Roman", serif' font-weight="bold" fill="#000" font-size="90" transform="translate(1760.5,734) scale(0.94,1)">T</text>
<text font-family='"Liberation Serif", "Times New Roman", serif' font-weight="bold" fill="#000" font-size="90"><tspan x="1819.5" y="751" font-size="58.5">synth.</tspan><tspan x="1973" y="734">,</tspan><tspan x="2011" y="738" font-size="96" font-weight="normal">°</tspan></text>
<text font-family='"Liberation Serif", "Times New Roman", serif' font-weight="bold" fill="#000" font-size="90" transform="translate(2047,734) scale(1.045,1)">C</text>
<path stroke="#C00000" stroke-width="18" stroke-linecap="round" d="M1733.4,862.3 H1828.1"/>
<text font-family='"Liberation Serif", "Times New Roman", serif' font-size="76" stroke="#fff" stroke-width="1.00" x="1837.4" y="885.5">40</text>
<path stroke="#FFC000" stroke-width="18" stroke-linecap="round" d="M2002.9,862.3 H2097.6"/>
<text font-family='"Liberation Serif", "Times New Roman", serif' font-size="76" stroke="#fff" stroke-width="1.00" x="2106.9" y="885.5">70</text>
<path stroke="#7030A0" stroke-width="18" stroke-linecap="round" d="M1733.4,1024.4 H1828.1"/>
<text font-family='"Liberation Serif", "Times New Roman", serif' font-size="76" stroke="#fff" stroke-width="1.00" x="1837.4" y="1047.6">90</text>
<path stroke="#ED7D31" stroke-width="18" stroke-linecap="round" d="M2002.9,1024.4 H2097.6"/>
<text font-family='"Liberation Serif", "Times New Roman", serif' font-size="76" stroke="#fff" stroke-width="1.00" x="2106.9" y="1047.6">100</text>
<path stroke="#00B050" stroke-width="18" stroke-linecap="round" d="M1733.4,1186.4 H1828.1"/>
<text font-family='"Liberation Serif", "Times New Roman", serif' font-size="76" stroke="#fff" stroke-width="1.00" x="1837.4" y="1209.6">110</text>
</svg>
</body></html>
